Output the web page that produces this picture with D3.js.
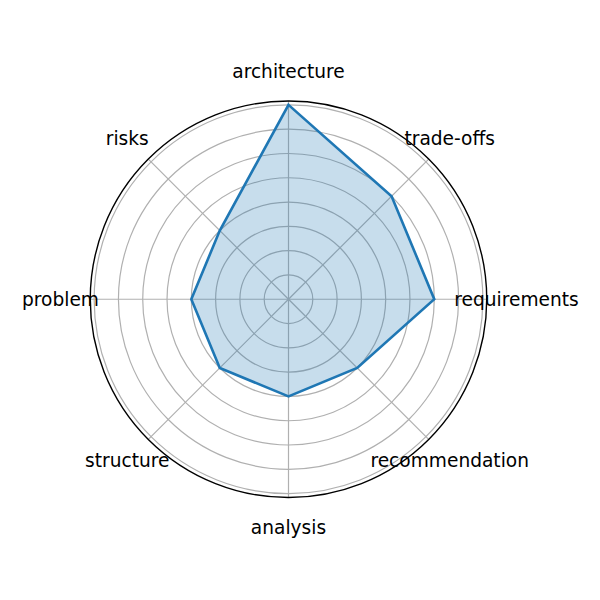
<!DOCTYPE html>
<html><head><meta charset="utf-8">
<script src="https://cdn.jsdelivr.net/npm/d3@7"></script>
<style>body{margin:0;background:#fff}</style>
</head><body>
<svg id="c" width="600" height="600"></svg>
<script>
const categories = ["architecture","trade-offs","requirements","recommendation","analysis","structure","problem","risks"];
const values = [8, 6, 6, 4, 4, 4, 4, 4];
const rTicks = [1,2,3,4,5,6,7,8];
const rMax = 8.16;

const cx = 288.5, cy = 299.25, R = 198.25;
const svg = d3.select("#c");
const g = svg.append("g").attr("transform", `translate(${cx},${cy})`);
const r = d3.scaleLinear().domain([0, rMax]).range([0, R]);
const ang = d3.scaleLinear().domain([0, categories.length]).range([0, 2*Math.PI]);

// grid circles
g.selectAll("circle.grid").data(rTicks).join("circle")
  .attr("r", d => r(d)).attr("fill","none").attr("stroke","#b0b0b0").attr("stroke-width",1.2);
// spokes
g.selectAll("line.spoke").data(categories).join("line")
  .attr("x1",0).attr("y1",0)
  .attr("x2",(d,i)=>R*Math.sin(ang(i))).attr("y2",(d,i)=>-R*Math.cos(ang(i)))
  .attr("stroke","#b0b0b0").attr("stroke-width",1.2);

const line = d3.lineRadial().angle((d,i)=>ang(i)).radius(d=>r(d)).curve(d3.curveLinearClosed);
g.append("path").datum(values).attr("d", line)
  .attr("fill","#1f77b4").attr("fill-opacity",0.25).attr("stroke","none");
g.append("path").datum(values).attr("d", line)
  .attr("fill","none").attr("stroke","#1f77b4").attr("stroke-width",2.6).attr("stroke-linejoin","miter");

// outer spine
g.append("circle").attr("r",R).attr("fill","none").attr("stroke","#000").attr("stroke-width",1.4);

// labels
const LR = 228;
g.selectAll("text.lab").data(categories).join("text")
  .attr("x",(d,i)=>LR*Math.sin(ang(i)))
  .attr("y",(d,i)=>-LR*Math.cos(ang(i)) + 7)
  .attr("text-anchor","middle")
  .attr("font-family","DejaVu Sans")
  .attr("font-size",18.6)
  .attr("fill","#000")
  .text(d=>d);
</script>
</body></html>
